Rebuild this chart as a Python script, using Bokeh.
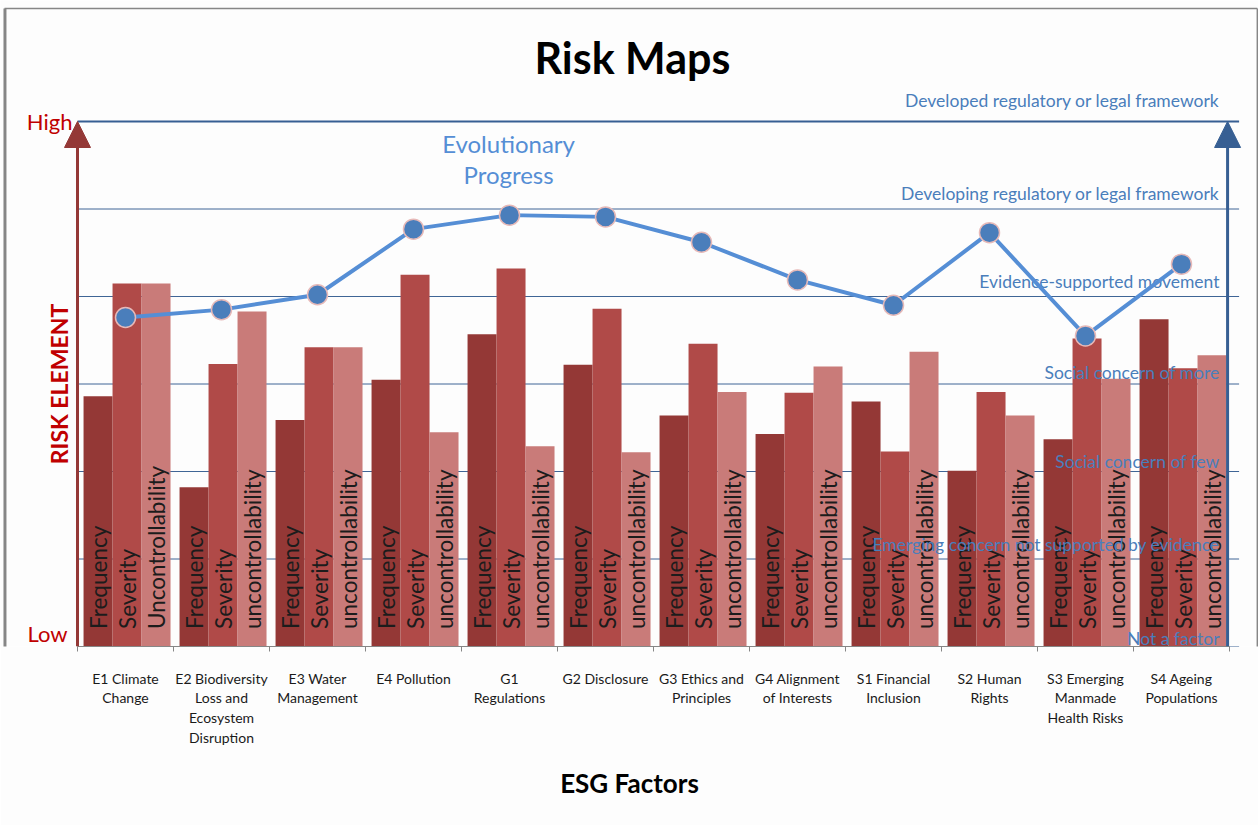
import numpy as np
from bokeh.plotting import figure
from bokeh.models import Range1d, FixedTicker, Arrow, NormalHead, BoxAnnotation, ColumnDataSource
from bokeh.core.properties import value
from bokeh.embed import file_html
from bokeh.resources import INLINE

# ---- data -------------------------------------------------------------
factors = [
    "E1 Climate\nChange",
    "E2 Biodiversity\nLoss and\nEcosystem\nDisruption",
    "E3 Water\nManagement",
    "E4 Pollution",
    "G1\nRegulations",
    "G2 Disclosure",
    "G3 Ethics and\nPrinciples",
    "G4 Alignment\nof Interests",
    "S1 Financial\nInclusion",
    "S2 Human\nRights",
    "S3 Emerging\nManmade\nHealth Risks",
    "S4 Ageing\nPopulations",
]
frequency = [2.86, 1.82, 2.59, 3.05, 3.57, 3.22, 2.64, 2.43, 2.80, 2.01, 2.37, 3.74]
severity = [4.15, 3.23, 3.42, 4.25, 4.32, 3.86, 3.46, 2.90, 2.23, 2.91, 3.52, 3.18]
uncontrollability = [4.15, 3.83, 3.42, 2.45, 2.29, 2.22, 2.91, 3.20, 3.37, 2.64, 3.06, 3.33]
progress = [3.76, 3.85, 4.02, 4.77, 4.93, 4.91, 4.62, 4.19, 3.90, 4.73, 3.55, 4.37]

frequency_labels = ["Frequency"] * 12
severity_labels = ["Severity"] * 12
uncontrollability_labels = ["Uncontrollability"] + ["uncontrollability"] * 11

levels = [
    "Not a factor",
    "Emerging concern not supported by evidence",
    "Social concern of few",
    "Social concern of more",
    "Evidence-supported movement",
    "Developing regulatory or legal framework",
    "Developed regulatory or legal framework",
]

# ---- geometry & style -------------------------------------------------
W, H = 1258, 825
X0_PX, BASE_PX = 77, 646          # pixel of category 0 edge and of level 0
PX_X, PX_Y = 96.0, 87.5           # pixels per category / per level
BOTTOM = H - BASE_PX

FONT = value("Lato")
C_FREQ, C_SEV, C_UNC = "#943836", "#b04a48", "#c97b79"
C_LINE, C_MARK = "#558ed5", "#4a7ebb"
C_LEVEL = "#4a7ebb"
C_GRID, C_GRID_TOP = "#3f6596", "#375f93"
C_RED = "#c00000"
C_BORDER = "#868686"

BAR_W = 0.302
BAR_OFF = [0.214, 0.516, 0.818]
LEVEL_LABEL_OFFSETS = [-8, -15, -10, -12, -15, -16, -21]   # px above each line

n = len(factors)
idx = np.arange(n)

p = figure(
    width=W, height=H,
    x_range=Range1d(-X0_PX / PX_X, (W - X0_PX) / PX_X),
    y_range=Range1d(0, BASE_PX / PX_Y),
    y_axis_location=None,
    output_backend="svg", toolbar_location=None,
    min_border=0, min_border_bottom=BOTTOM,
    background_fill_color="#fdfdfd", border_fill_color="#fdfdfd",
)
p.outline_line_color = None
p.grid.visible = False

# level gridlines
lv = np.arange(len(levels))
p.segment(x0=0, x1=12.1, y0=lv[:-1], y1=lv[:-1], line_color=C_GRID, line_width=1)
p.segment(x0=0, x1=12.1, y0=lv[-1:], y1=lv[-1:], line_color=C_GRID_TOP, line_width=2.2)

# grouped bars
src = ColumnDataSource(dict(
    xf=idx + BAR_OFF[0], xs=idx + BAR_OFF[1], xu=idx + BAR_OFF[2],
    f=frequency, s=severity, u=uncontrollability,
    lf=frequency_labels, ls=severity_labels, lu=uncontrollability_labels,
))
p.vbar(x="xf", top="f", width=BAR_W, bottom=0, source=src, fill_color=C_FREQ, line_color=None)
p.vbar(x="xs", top="s", width=BAR_W, bottom=0, source=src, fill_color=C_SEV, line_color=None)
p.vbar(x="xu", top="u", width=BAR_W, bottom=0, source=src, fill_color=C_UNC, line_color=None)

# vertical labels inside bars
for xc, lab in (("xf", "lf"), ("xs", "ls"), ("xu", "lu")):
    p.text(x=xc, y=0.2, text=lab, source=src, angle=np.pi / 2,
           text_align="left", text_baseline="middle", text_font=FONT,
           text_font_size="22.5px", text_color="#1c1c1c")

# level captions on the right
p.text(x=11.896, y=lv, text=levels, text_align="right", text_baseline="middle",
       y_offset=LEVEL_LABEL_OFFSETS, text_font=FONT, text_font_size="17.5px",
       text_color=C_LEVEL)

# evolutionary progress line
p.line(x=idx + 0.5, y=progress, line_color=C_LINE, line_width=4)
p.scatter(x=idx + 0.5, y=progress, size=20, fill_color=C_MARK,
          line_color="#e6b9b8", line_width=1.5)
p.text(x=[4.49, 4.49], y=[5.726, 5.366], text=["Evolutionary", "Progress"],
       text_align="center", text_baseline="middle", y_offset=-2, text_font=FONT,
       text_font_size="24px", text_color=C_LINE)

# axis arrows
p.add_layout(Arrow(end=NormalHead(size=26, fill_color=C_FREQ, line_color=C_FREQ),
                   x_start=0, y_start=0, x_end=0, y_end=6,
                   line_color=C_FREQ, line_width=3))
p.add_layout(Arrow(end=NormalHead(size=26, fill_color=C_GRID_TOP, line_color=C_GRID_TOP),
                   x_start=11.98, y_start=0, x_end=11.98, y_end=6,
                   line_color=C_GRID_TOP, line_width=3))

# left scale captions
p.text(x=[0], y=[6], text=["High"], text_align="right", text_baseline="middle",
       x_offset=-5, y_offset=0, text_font=FONT, text_font_size="22px", text_color=C_RED)
p.text(x=[0], y=[0], text=["Low"], text_align="right", text_baseline="middle",
       x_offset=-10, y_offset=-13, text_font=FONT, text_font_size="22px", text_color=C_RED)
p.text(x=[0], y=[3], text=["RISK ELEMENT"], angle=np.pi / 2, text_align="center",
       text_baseline="middle", x_offset=-19, text_font=FONT, text_font_size="23px",
       text_font_style="bold", text_color=C_RED)

# title
p.text(x=[5.78], y=[6.697], text=["Risk Maps"], text_align="center", text_baseline="middle",
       y_offset=-3, text_font=FONT, text_font_size="43px", text_font_style="bold",
       text_color="#000000")

# chart border
p.segment(x0=[-0.76], x1=[12.29], y0=[7.291], y1=[7.291], line_color=C_BORDER, line_width=1.5)
for left, right in ((-0.771, -0.740), (12.282, 12.302)):
    p.add_layout(BoxAnnotation(left=left, right=right, top=7.291, bottom=-BOTTOM / PX_Y,
                               fill_color=C_BORDER, fill_alpha=1, line_color=None))

# category axis
ax = p.xaxis[0]
ax.ticker = FixedTicker(ticks=list(idx + 0.5), minor_ticks=list(range(n + 1)))
ax.major_label_overrides = {float(i + 0.5): f for i, f in enumerate(factors)}
ax.bounds = (0, 12)
ax.axis_line_color = C_BORDER
ax.major_tick_out = 0
ax.major_tick_in = 0
ax.minor_tick_out = 5
ax.minor_tick_in = 0
ax.minor_tick_line_color = C_BORDER
ax.major_label_text_font = "Lato"
ax.major_label_text_font_size = "14px"
ax.major_label_text_color = "#1a1a1a"
ax.major_label_text_line_height = 1.16
ax.major_label_standoff = 18
ax.axis_label = "ESG Factors"
ax.axis_label_text_font = "Lato"
ax.axis_label_text_font_size = "26px"
ax.axis_label_text_font_style = "bold"
ax.axis_label_text_color = "#000000"
ax.axis_label_standoff = 18

open("out.html", "w").write(file_html(p, INLINE))
